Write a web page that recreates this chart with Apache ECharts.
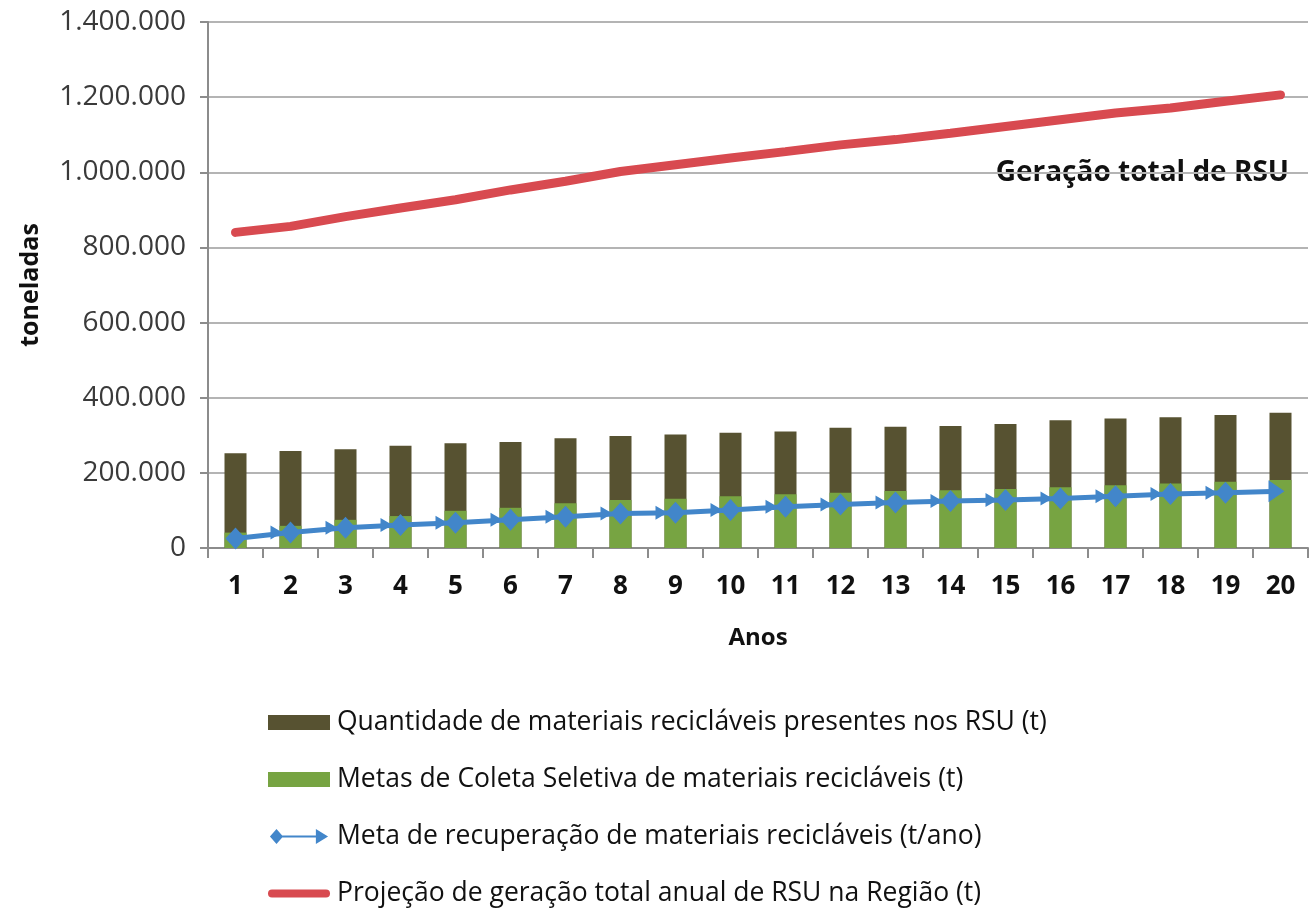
<!DOCTYPE html>
<html>
<head>
<meta charset="utf-8">
<script src="https://cdn.jsdelivr.net/npm/echarts@6/dist/echarts.min.js"></script>
<style>
  html, body { margin: 0; padding: 0; background: #fff; }
  #chart { width: 1309px; height: 909px; }
</style>
</head>
<body>
<div id="chart"></div>
<script>
// anos 1..20
const anos = ['1', '2', '3', '4', '5', '6', '7', '8', '9', '10',
  '11', '12', '13', '14', '15', '16', '17', '18', '19', '20'];

// quantidade de materiais reciclaveis presentes nos RSU (t)
const reciclaveis = [252000, 258000, 263000, 272000, 279000, 282000, 292000, 298000, 302000, 307000,
  310000, 320000, 323000, 325000, 330000, 340000, 345000, 348000, 354000, 360000];

// metas de coleta seletiva (t)
const metasColeta = [41000, 59000, 75000, 85000, 99000, 107000, 119000, 128000, 131000, 138000,
  143000, 147000, 152000, 154000, 157000, 162000, 167000, 172000, 176000, 181000];

// meta de recuperacao (t/ano)
const metaRecuperacao = [25000, 41000, 54000, 61000, 67000, 75000, 83000, 92000, 94000, 101000,
  110000, 116000, 121000, 125000, 128000, 132000, 138000, 144000, 147000, 151000];

// projecao de geracao total anual de RSU (t)
const geracaoTotal = [840000, 856000, 882000, 905000, 927000, 953000, 976000, 1002000, 1020000, 1038000,
  1055000, 1073000, 1087000, 1104000, 1122000, 1140000, 1158000, 1171000, 1189000, 1206000];

const nomes = [
  'Quantidade de materiais recicláveis presentes nos RSU (t)',
  'Metas de Coleta Seletiva de materiais recicláveis (t)',
  'Meta de recuperação de materiais recicláveis (t/ano)',
  'Projeção de geração total anual de RSU na Região (t)'
];

const fonte = '"Open Sans", "Liberation Sans", sans-serif';

// marcador: seta + losango (primeiro so losango, ultimo so seta)
const simboloMarca = 'path://M0,4 L12,11 L0,18 Z M10,11 L20,0 L30,11 L20,22 Z';
const dadosRecup = metaRecuperacao.map((v, i) => {
  if (i === 0) return { value: v, symbol: 'diamond', symbolSize: [20, 22], symbolOffset: [0, 0] };
  if (i === metaRecuperacao.length - 1) {
    return { value: v, symbol: 'path://M0,0 L16,11 L0,22 Z', symbolSize: [16, 22], symbolOffset: [-4, 0] };
  }
  return { value: v };
});

const fmt = v => String(v).replace(/\B(?=(\d{3})+(?!\d))/g, '.');

const chart = echarts.init(document.getElementById('chart'));
const option = {
  animation: false,
  backgroundColor: '#fff',
  grid: { left: 208, top: 22, width: 1100, bottom: 361 },
  xAxis: {
    type: 'category',
    data: anos,
    name: 'Anos',
    nameLocation: 'middle',
    nameGap: 78,
    nameTextStyle: { fontFamily: fonte, fontWeight: 'bold', fontSize: 24, color: '#111' },
    axisLine: { lineStyle: { color: '#8c8c8c', width: 2 } },
    axisTick: { show: true, length: 10, lineStyle: { color: '#8c8c8c', width: 2 } },
    axisLabel: { fontFamily: fonte, fontWeight: 'bold', fontSize: 26, color: '#111', margin: 26 }
  },
  yAxis: {
    type: 'value',
    min: 0,
    max: 1400000,
    interval: 200000,
    name: 'toneladas',
    nameLocation: 'middle',
    nameGap: 165,
    nameRotate: 90,
    nameTextStyle: { fontFamily: fonte, fontWeight: 'bold', fontSize: 25, color: '#111' },
    axisLine: { show: true, lineStyle: { color: '#8c8c8c', width: 2 } },
    axisTick: { show: true, length: 8, lineStyle: { color: '#8c8c8c', width: 2 } },
    splitLine: { lineStyle: { color: '#b4b4b4', width: 2 } },
    axisLabel: { fontFamily: fonte, fontSize: 28, color: '#3a3a3a', margin: 22, formatter: fmt }
  },
  legend: {
    orient: 'vertical',
    left: 263,
    top: 704,
    height: 230,
    padding: 5,
    itemWidth: 62,
    itemHeight: 15,
    itemGap: 30,
    textStyle: { fontFamily: fonte, fontSize: 26.5, color: '#111', lineHeight: 24, padding: [0, 0, 0, 2] },
    data: [
      { name: nomes[0], icon: 'rect' },
      { name: nomes[1], icon: 'rect' },
      { name: nomes[2], icon: 'path://M0,8 L7,0 L14,8 L7,16 Z M13,7 L50,7 L50,9 L13,9 Z M49,0 L62,8 L49,16 Z' },
      { name: nomes[3], icon: 'path://M4,0 L58,0 A4,4 0 0 1 58,8 L4,8 A4,4 0 0 1 4,0 Z' }
    ]
  },
  graphic: [{
    type: 'text',
    right: 20,
    top: 159,
    style: { text: 'Geração total de RSU', font: 'bold 28px ' + fonte, fill: '#111' }
  }],
  series: [
    {
      name: nomes[0],
      type: 'bar',
      data: reciclaveis,
      barWidth: 22,
      barGap: '-100%',
      itemStyle: { color: '#575231' }
    },
    {
      name: nomes[1],
      type: 'bar',
      data: metasColeta,
      barWidth: 22,
      barGap: '-100%',
      itemStyle: { color: '#77a442' }
    },
    {
      name: nomes[2],
      type: 'line',
      data: dadosRecup,
      symbol: simboloMarca,
      symbolSize: [30, 22],
      symbolOffset: [-5, 0],
      showSymbol: true,
      lineStyle: { color: '#4286ca', width: 5 },
      itemStyle: { color: '#4286ca' },
      z: 5
    },
    {
      name: nomes[3],
      type: 'line',
      data: geracaoTotal,
      showSymbol: false,
      symbol: 'none',
      lineStyle: { color: '#d84a50', width: 9, cap: 'round' },
      itemStyle: { color: '#d84a50' },
      z: 4
    }
  ]
};
chart.setOption(option);
</script>
</body>
</html>
